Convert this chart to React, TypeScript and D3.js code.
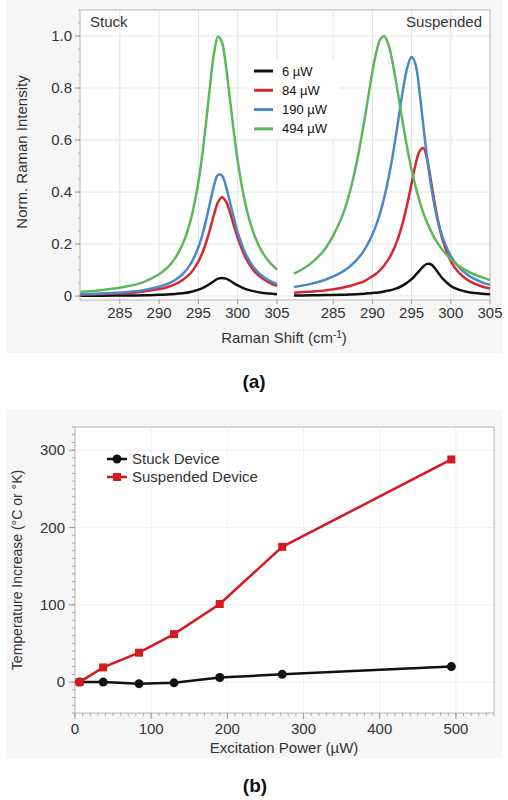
import React from "react";
import * as d3 from "d3";

// (a) Raman spectra
const shiftStuck = [280, 282, 284, 286, 288, 290, 291, 292, 293, 294, 295, 295.5, 296, 296.5, 297, 297.5, 298, 298.5, 299, 299.5, 300, 301, 302, 303, 304, 305];
const stuck6 = [0.001, 0.001, 0.002, 0.002, 0.003, 0.005, 0.006, 0.008, 0.011, 0.016, 0.025, 0.031, 0.038, 0.048, 0.058, 0.067, 0.07, 0.067, 0.06, 0.05, 0.041, 0.027, 0.019, 0.013, 0.01, 0.007];
const stuck84 = [0.006, 0.007, 0.009, 0.012, 0.018, 0.027, 0.034, 0.045, 0.062, 0.088, 0.133, 0.166, 0.208, 0.259, 0.315, 0.361, 0.38, 0.364, 0.324, 0.273, 0.224, 0.148, 0.1, 0.071, 0.052, 0.04];
const stuck190 = [0.007, 0.009, 0.012, 0.016, 0.023, 0.036, 0.046, 0.061, 0.085, 0.123, 0.188, 0.235, 0.294, 0.362, 0.427, 0.466, 0.463, 0.423, 0.363, 0.301, 0.245, 0.163, 0.112, 0.08, 0.06, 0.046];
const stuck494 = [0.017, 0.021, 0.028, 0.038, 0.054, 0.084, 0.108, 0.144, 0.2, 0.29, 0.439, 0.545, 0.674, 0.814, 0.936, 0.998, 0.975, 0.885, 0.761, 0.634, 0.52, 0.351, 0.244, 0.176, 0.132, 0.102];

const shiftSusp = [280, 282, 284, 286, 287, 288, 289, 290, 290.5, 291, 291.5, 292, 292.5, 293, 293.5, 294, 294.5, 295, 295.5, 296, 296.5, 297, 297.5, 298, 298.5, 299, 300, 301, 302, 303, 304, 305];
const susp6 = [0.002, 0.003, 0.004, 0.005, 0.006, 0.007, 0.009, 0.012, 0.013, 0.015, 0.018, 0.021, 0.024, 0.029, 0.035, 0.043, 0.053, 0.065, 0.081, 0.098, 0.114, 0.124, 0.122, 0.106, 0.085, 0.066, 0.039, 0.025, 0.017, 0.012, 0.009, 0.007];
const susp84 = [0.013, 0.017, 0.022, 0.031, 0.038, 0.047, 0.058, 0.076, 0.087, 0.101, 0.118, 0.139, 0.166, 0.2, 0.243, 0.297, 0.361, 0.434, 0.505, 0.556, 0.569, 0.523, 0.438, 0.348, 0.271, 0.212, 0.134, 0.091, 0.065, 0.048, 0.037, 0.029];
const susp190 = [0.035, 0.046, 0.063, 0.09, 0.111, 0.139, 0.179, 0.237, 0.275, 0.321, 0.377, 0.445, 0.525, 0.617, 0.716, 0.811, 0.885, 0.919, 0.891, 0.788, 0.655, 0.527, 0.42, 0.336, 0.271, 0.222, 0.154, 0.112, 0.085, 0.066, 0.053, 0.043];
const susp494 = [0.086, 0.122, 0.183, 0.296, 0.387, 0.514, 0.68, 0.862, 0.938, 0.987, 0.999, 0.971, 0.91, 0.827, 0.735, 0.644, 0.56, 0.486, 0.422, 0.367, 0.32, 0.281, 0.248, 0.219, 0.196, 0.175, 0.142, 0.117, 0.098, 0.083, 0.072, 0.062];

const powerLabels = ["6 µW", "84 µW", "190 µW", "494 µW"];
const powerColors = ["#111111", "#d7262c", "#4a88c7", "#5cb85a"];
const shiftTicks = [285, 290, 295, 300, 305];
const intensityTicks = [0, 0.2, 0.4, 0.6, 0.8, 1.0];

// (b) temperature vs power
const excitation = [6, 37, 84, 130, 190, 272, 494];
const stuckTemp = [0, 0, -2, -1, 6, 10, 20];
const suspendedTemp = [0, 19, 38, 62, 101, 175, 288];
const powerTicks = [0, 100, 200, 300, 400, 500];
const tempTicks = [0, 100, 200, 300];

const font = "'Liberation Sans', Arial, Helvetica, sans-serif";
const txt = "#333";

export default function App() {
  // panel (a)
  const xL = d3.scaleLinear().domain([280, 305]).range([80.5, 277]);
  const xR = d3.scaleLinear().domain([280, 305]).range([294, 490]);
  const yA = d3.scaleLinear().domain([-0.015, 1.1]).range([300, 10]);
  const aTop = 10, aBottom = 300, aLeft = 80, aRight = 490;

  const spec = (xs: number[], x: any) =>
    d3
      .line<number>()
      .x((_, i) => x(xs[i]))
      .y((d) => yA(d))
      .curve(d3.curveCatmullRom.alpha(0.5));

  const stuckSeries = [stuck6, stuck84, stuck190, stuck494];
  const suspSeries = [susp6, susp84, susp190, susp494];

  // panel (b)
  const xB = d3.scaleLinear().domain([0, 550]).range([75, 494]);
  const yB = d3.scaleLinear().domain([-40, 330]).range([713, 427]);
  const lineB = (ys: number[]) =>
    d3
      .line<number>()
      .x((_, i) => xB(excitation[i]))
      .y((d) => yB(d))(ys) as string;

  const minorY = d3.range(-40, 331, 10);
  const minorX = d3.range(0, 551, 10);
  const minorA = d3.range(0, 1.101, 0.05);

  return (
    <svg
      width={508}
      height={800}
      style={{ position: "absolute", left: 0, top: 0, background: "#fff" }}
      fontFamily={font}
    >
      <rect x={6} y={0} width={496} height={353} fill="#f6f6f6" />
      <rect x={6} y={410} width={496} height={348} fill="#f6f6f6" />

      {/* ---------- (a) ---------- */}
      <rect x={aLeft} y={aTop} width={aRight - aLeft} height={aBottom - aTop} fill="#fff" />
      {intensityTicks.map((t) => (
        <line key={t} x1={aLeft} x2={aRight} y1={yA(t)} y2={yA(t)} stroke="#e2e2e2" />
      ))}
      {shiftTicks.map((t) => (
        <line key={"l" + t} x1={xL(t)} x2={xL(t)} y1={aTop} y2={aBottom} stroke="#e2e2e2" />
      ))}
      {shiftTicks.slice(0, 4).map((t) => (
        <line key={"r" + t} x1={xR(t)} x2={xR(t)} y1={aTop} y2={aBottom} stroke="#e2e2e2" />
      ))}
      <rect x={aLeft} y={aTop} width={aRight - aLeft} height={aBottom - aTop} fill="none" stroke="#b5b5b5" />
      {minorA.map((t) => (
        <line key={t} x1={aLeft - 2} x2={aLeft} y1={yA(t)} y2={yA(t)} stroke="#b5b5b5" />
      ))}
      {intensityTicks.map((t) => (
        <g key={t}>
          <line x1={aLeft - 5} x2={aLeft} y1={yA(t)} y2={yA(t)} stroke="#999" />
          <text x={72} y={yA(t)} dy="0.35em" textAnchor="end" fontSize={15} fill={txt}>
            {t === 0 ? "0" : t.toFixed(1)}
          </text>
        </g>
      ))}
      {shiftTicks.map((t) => (
        <g key={t}>
          <line x1={xL(t)} x2={xL(t)} y1={aBottom} y2={aBottom + 4} stroke="#999" />
          <line x1={xR(t)} x2={xR(t)} y1={aBottom} y2={aBottom + 4} stroke="#999" />
          <text x={xL(t)} y={318} textAnchor="middle" fontSize={15} fill={txt}>{t}</text>
          <text x={xR(t)} y={318} textAnchor="middle" fontSize={15} fill={txt}>{t}</text>
        </g>
      ))}

      {stuckSeries.map((s, i) => (
        <path key={"s" + i} d={spec(shiftStuck, xL)(s) as string} fill="none" stroke={powerColors[i]} strokeWidth={2.5} />
      ))}
      {suspSeries.map((s, i) => (
        <path key={"p" + i} d={spec(shiftSusp, xR)(s) as string} fill="none" stroke={powerColors[i]} strokeWidth={2.5} />
      ))}

      <text x={90} y={27} fontSize={15} fill={txt}>Stuck</text>
      <text x={482} y={27} fontSize={15} fill={txt} textAnchor="end">Suspended</text>

      <rect x={247} y={60} width={92} height={78} fill="#fff" />
      {powerLabels.map((p, i) => (
        <g key={p} transform={`translate(0,${71 + i * 19.3})`}>
          <line x1={254} x2={273} y1={0} y2={0} stroke={powerColors[i]} strokeWidth={3} />
          <text x={282} y={0} dy="0.35em" fontSize={13} fill="#111">{p}</text>
        </g>
      ))}

      <text transform={`translate(27,152) rotate(-90)`} textAnchor="middle" fontSize={15} fill={txt}>
        Norm. Raman Intensity
      </text>
      <text x={284} y={343} textAnchor="middle" fontSize={15} fill={txt}>
        Raman Shift (cm<tspan dy={-5} fontSize={10}>-1</tspan><tspan dy={5}>)</tspan>
      </text>
      <text x={254} y={388} textAnchor="middle" fontSize={19} fontWeight="bold" fill="#111">(a)</text>

      {/* ---------- (b) ---------- */}
      <rect x={75} y={427} width={419} height={286} fill="#fff" />
      {powerTicks.slice(1).map((t) => (
        <line key={t} x1={xB(t)} x2={xB(t)} y1={427} y2={713} stroke="#f0f0f0" />
      ))}
      {tempTicks.map((t) => (
        <line key={t} x1={75} x2={494} y1={yB(t)} y2={yB(t)} stroke="#f0f0f0" />
      ))}
      <rect x={75} y={427} width={419} height={286} fill="none" stroke="#b5b5b5" />
      {minorY.map((t) => (
        <line key={t} x1={72} x2={75} y1={yB(t)} y2={yB(t)} stroke="#aaa" />
      ))}
      {minorX.map((t) => (
        <line key={t} x1={xB(t)} x2={xB(t)} y1={713} y2={716} stroke="#aaa" />
      ))}
      {tempTicks.map((t) => (
        <g key={t}>
          <line x1={69} x2={75} y1={yB(t)} y2={yB(t)} stroke="#999" />
          <text x={65} y={yB(t)} dy="0.35em" textAnchor="end" fontSize={15} fill={txt}>{t}</text>
        </g>
      ))}
      {powerTicks.map((t) => (
        <g key={t}>
          <line x1={xB(t)} x2={xB(t)} y1={713} y2={719} stroke="#999" />
          <text x={xB(t)} y={734} textAnchor="middle" fontSize={15} fill={txt}>{t}</text>
        </g>
      ))}

      <path d={lineB(stuckTemp)} fill="none" stroke="#111" strokeWidth={2.5} />
      {stuckTemp.map((v, i) => (
        <circle key={i} cx={xB(excitation[i])} cy={yB(v)} r={4.5} fill="#111" />
      ))}
      <path d={lineB(suspendedTemp)} fill="none" stroke="#d7191f" strokeWidth={2.5} />
      {suspendedTemp.map((v, i) => (
        <rect key={i} x={xB(excitation[i]) - 4} y={yB(v) - 4} width={8} height={8} fill="#d7191f" />
      ))}

      <line x1={107} x2={127} y1={459} y2={459} stroke="#111" strokeWidth={2.5} />
      <circle cx={117} cy={459} r={4.5} fill="#111" />
      <text x={132} y={459} dy="0.35em" fontSize={15} fill={txt}>Stuck Device</text>
      <line x1={107} x2={127} y1={477} y2={477} stroke="#d7191f" strokeWidth={2.5} />
      <rect x={113} y={473} width={8} height={8} fill="#d7191f" />
      <text x={132} y={477} dy="0.35em" fontSize={15} fill={txt}>Suspended Device</text>

      <text transform={`translate(22,570) rotate(-90)`} textAnchor="middle" fontSize={14} fill={txt}>
        Temperature Increase (°C or °K)
      </text>
      <text x={284} y={753} textAnchor="middle" fontSize={15} fill={txt}>
        Excitation Power (µW)
      </text>
      <text x={255} y={792} textAnchor="middle" fontSize={19} fontWeight="bold" fill="#111">(b)</text>
    </svg>
  );
}
